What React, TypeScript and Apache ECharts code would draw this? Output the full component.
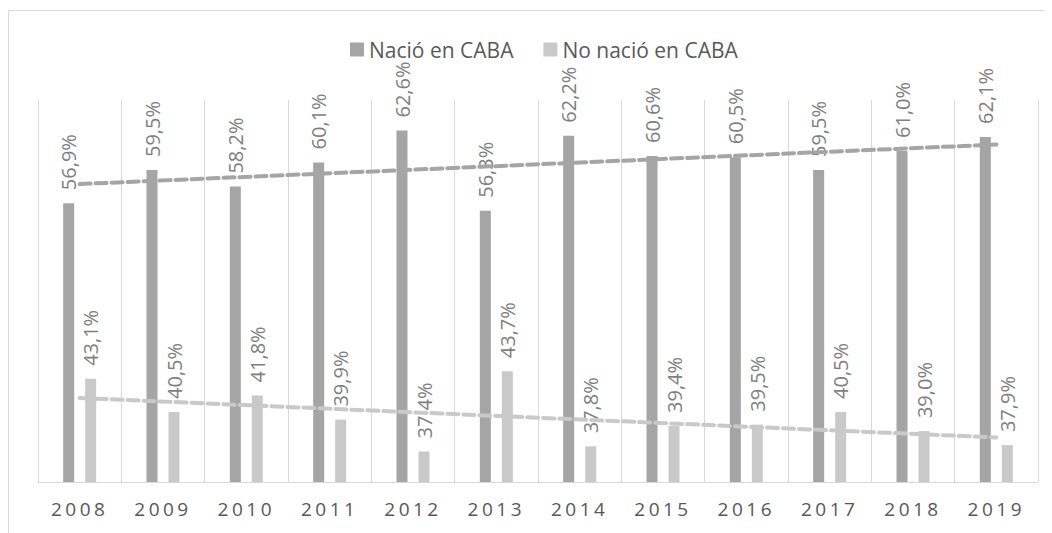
import React, { useEffect, useRef } from "react";
import * as echarts from "echarts";

const categories = ["2008", "2009", "2010", "2011", "2012", "2013", "2014", "2015", "2016", "2017", "2018", "2019"];
const nacio = [56.9, 59.5, 58.2, 60.1, 62.6, 56.3, 62.2, 60.6, 60.5, 59.5, 61.0, 62.1];
const noNacio = [43.1, 40.5, 41.8, 39.9, 37.4, 43.7, 37.8, 39.4, 39.5, 40.5, 39.0, 37.9];
// trend line endpoints (first and last category)
const trendNacio = [58.4, 61.5];
const trendNoNacio = [41.6, 38.5];
const seriesNames = ["Nació en CABA", "No nació en CABA"];

const DARK = "#a5a5a5";
const LIGHT = "#c9c9c9";
const FONT = "'Open Sans', 'Noto Sans', sans-serif";

export default function App() {
  const ref = useRef<HTMLDivElement>(null);
  useEffect(() => {
    if (!ref.current) return;
    const chart = echarts.init(ref.current, null, { renderer: "svg" });
    const fmt = (p: any) => Number(p.value).toFixed(1).replace(".", ",") + "%";
    const barLabel = {
      show: true,
      position: "top",
      rotate: 90,
      align: "left",
      verticalAlign: "middle",
      distance: 13,
      color: "#7f7f7f",
      fontSize: 20,
      fontFamily: FONT,
      formatter: fmt,
    };
    const last = categories.length - 1;
    chart.setOption({
      animation: false,
      textStyle: { fontFamily: FONT },
      graphic: [
        {
          type: "rect",
          shape: { x: 0.5, y: 2.5, width: 3000, height: 3000 },
          style: { fill: "none", stroke: "#d9d9d9", lineWidth: 1 },
          silent: true,
        },
      ],
      legend: {
        data: seriesNames,
        top: 26,
        left: 337,
        icon: "rect",
        itemWidth: 14,
        itemHeight: 14,
        itemGap: 30,
        textStyle: { color: "#595959", fontSize: 21, fontFamily: FONT },
      },
      grid: { left: 30, right: 14, top: 92, bottom: 51 },
      xAxis: {
        type: "category",
        data: categories,
        axisLine: { lineStyle: { color: "#d9d9d9", width: 1 } },
        axisTick: { show: false },
        splitLine: { show: true, lineStyle: { color: "#d9d9d9", width: 1 } },
        axisLabel: { color: "#585858", fontSize: 19, fontFamily: FONT, margin: 17 },
      },
      yAxis: {
        type: "value",
        min: 35,
        max: 65,
        show: false,
        splitLine: { show: false },
      },
      series: [
        {
          name: seriesNames[0],
          type: "bar",
          data: nacio,
          barWidth: 11,
          barGap: "100%",
          itemStyle: { color: DARK },
          label: barLabel,
        },
        {
          name: seriesNames[1],
          type: "bar",
          data: noNacio,
          barWidth: 11,
          itemStyle: { color: LIGHT },
          label: barLabel,
        },
        {
          name: "trend1",
          type: "line",
          z: 10,
          silent: true,
          showSymbol: false,
          symbol: "none",
          data: [[categories[0], trendNacio[0]], [categories[last], trendNacio[1]]],
          lineStyle: { color: DARK, width: 4, type: [11, 5], cap: "round" },
        },
        {
          name: "trend2",
          type: "line",
          z: 10,
          silent: true,
          showSymbol: false,
          symbol: "none",
          data: [[categories[0], trendNoNacio[0]], [categories[last], trendNoNacio[1]]],
          lineStyle: { color: LIGHT, width: 4, type: [11, 5], cap: "round" },
        },
      ],
    });
    return () => chart.dispose();
  }, []);
  return (
    <>
      <style>{`.echart-host text[fill="#585858"]{letter-spacing:3.5px}`}</style>
      <div ref={ref} className="echart-host" style={{ width: 1044, height: 525 }} />
    </>
  );
}
